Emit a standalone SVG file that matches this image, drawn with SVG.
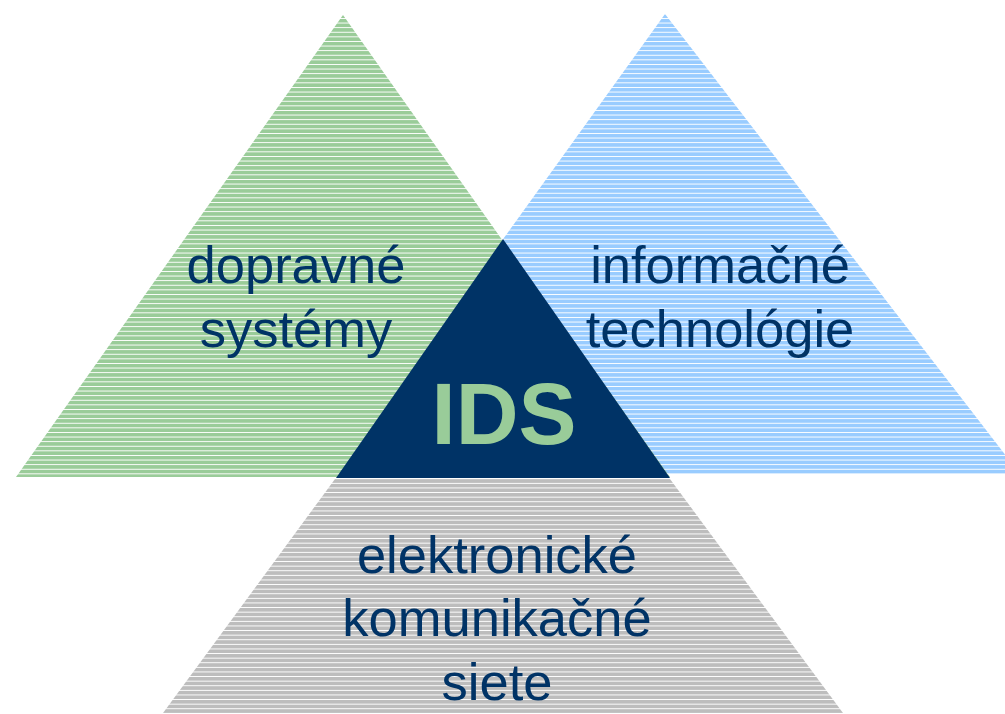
<svg xmlns="http://www.w3.org/2000/svg" width="1005" height="714" viewBox="0 0 1005 714">
  <defs>
    <pattern id="pg" patternUnits="userSpaceOnUse" width="20" height="4.6" y="0.5">
      <rect width="20" height="4.6" fill="#ffffff" shape-rendering="crispEdges"/>
      <rect width="20" height="3.6" fill="#9ACC99" shape-rendering="crispEdges"/>
    </pattern>
    <pattern id="pb" patternUnits="userSpaceOnUse" width="20" height="4.6" y="0.5">
      <rect width="20" height="4.6" fill="#ffffff" shape-rendering="crispEdges"/>
      <rect width="20" height="3.6" fill="#99CCFF" shape-rendering="crispEdges"/>
    </pattern>
    <pattern id="pgr" patternUnits="userSpaceOnUse" width="20" height="4.6" y="0.8">
      <rect width="20" height="4.6" fill="#ffffff" shape-rendering="crispEdges"/>
      <rect width="20" height="3.6" fill="#BDBDBD" shape-rendering="crispEdges"/>
    </pattern>
  </defs>
  <style>
    .lbl { font-family: "Liberation Sans", Arial, sans-serif; font-size: 52.5px; fill: #003366; text-anchor: middle; }
    .ids { font-family: "Liberation Sans", Arial, sans-serif; font-size: 87px; font-weight: bold; fill: #99CC99; text-anchor: middle; }
  </style>
  <rect width="1005" height="714" fill="#ffffff"/>
  <g id="informacne">
    <polygon points="665,14 1020,474 334,474" fill="url(#pb)"/>
  </g>
  <g id="dopravne">
    <polygon points="343,15 670,477 16,477" fill="url(#pg)"/>
  </g>
  <g id="elektronicke">
    <polygon points="335,479 670,479 843,713 163,713" fill="url(#pgr)"/>
  </g>
  <g id="ids">
    <polygon points="503,239 670,478 336,478" fill="#003366"/>
    <text class="ids" x="504" y="444">IDS</text>
  </g>
  <g id="labels">
    <text class="lbl" x="296" y="283">dopravné</text>
    <text class="lbl" x="296" y="347">systémy</text>
    <text class="lbl" x="720" y="283">informačné</text>
    <text class="lbl" x="720" y="347">technológie</text>
    <text class="lbl" x="497" y="573">elektronické</text>
    <text class="lbl" x="497" y="636">komunikačné</text>
    <text class="lbl" x="497" y="700">siete</text>
  </g>
  <g id="connectors"></g>
</svg>
